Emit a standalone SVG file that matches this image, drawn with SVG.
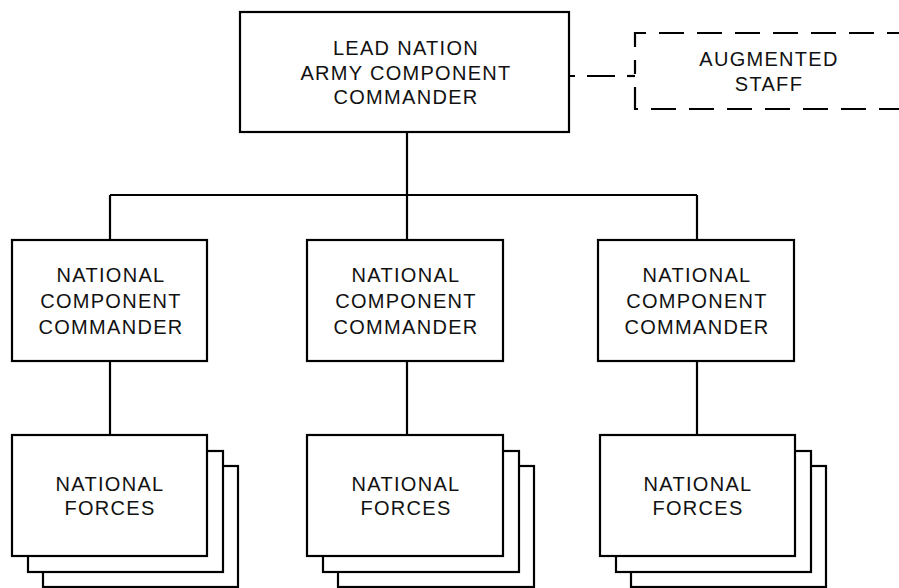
<svg xmlns="http://www.w3.org/2000/svg" width="899" height="588" viewBox="0 0 899 588">
<style>
.box{fill:#fff;stroke:#000;stroke-width:2.2}
.ln{fill:none;stroke:#000;stroke-width:2.2}
.dash{fill:none;stroke:#000;stroke-width:2.2}
text{font-family:"Liberation Sans",Arial,sans-serif;font-size:20px;letter-spacing:1.3px;fill:#111;text-anchor:middle}
</style>
<rect width="899" height="588" fill="#fff"/>
<g id="connectors">
<path class="ln" d="M407 132 V195 M110 195 H697 M110 195 V240 M407 195 V240 M697 195 V240"/>
<path class="ln" d="M110 361 V435 M407 361 V435 M697 361 V435"/>
<path class="dash" d="M635 76 H569" stroke-dasharray="8 12 28 12"/>
<path class="ln" d="M627 76 H635"/>
</g>
<g id="lead">
<rect class="box" x="240" y="12" width="329" height="120"/>
<text x="406" y="55">LEAD NATION</text>
<text x="406" y="80">ARMY COMPONENT</text>
<text x="406" y="104">COMMANDER</text>
</g>
<g id="augmented">
<path class="dash" d="M635 73 V33 H899" stroke-dasharray="25 13" stroke-dashoffset="12"/>
<path class="dash" d="M635 73 V109 H899" stroke-dasharray="25 13" stroke-dashoffset="-14"/>
<text x="769" y="66">AUGMENTED</text>
<text x="769" y="91">STAFF</text>
</g>
<g id="ncc1">
<rect class="box" x="12" y="240" width="195" height="121"/>
<text x="111" y="282">NATIONAL</text>
<text x="111" y="308">COMPONENT</text>
<text x="111" y="334">COMMANDER</text>
</g>
<g id="ncc2">
<rect class="box" x="307" y="240" width="196" height="121"/>
<text x="406" y="282">NATIONAL</text>
<text x="406" y="308">COMPONENT</text>
<text x="406" y="334">COMMANDER</text>
</g>
<g id="ncc3">
<rect class="box" x="598" y="240" width="196" height="121"/>
<text x="697" y="282">NATIONAL</text>
<text x="697" y="308">COMPONENT</text>
<text x="697" y="334">COMMANDER</text>
</g>
<g id="forces1">
<rect class="box" x="43" y="466" width="195" height="121"/>
<rect class="box" x="28" y="451" width="195" height="121"/>
<rect class="box" x="12" y="435" width="195" height="121"/>
<text x="110" y="491">NATIONAL</text>
<text x="110" y="515">FORCES</text>
</g>
<g id="forces2">
<rect class="box" x="338" y="466" width="196" height="121"/>
<rect class="box" x="323" y="451" width="196" height="121"/>
<rect class="box" x="307" y="435" width="196" height="121"/>
<text x="406" y="491">NATIONAL</text>
<text x="406" y="515">FORCES</text>
</g>
<g id="forces3">
<rect class="box" x="631" y="466" width="195" height="121"/>
<rect class="box" x="616" y="451" width="195" height="121"/>
<rect class="box" x="600" y="435" width="195" height="121"/>
<text x="698" y="491">NATIONAL</text>
<text x="698" y="515">FORCES</text>
</g>
</svg>
